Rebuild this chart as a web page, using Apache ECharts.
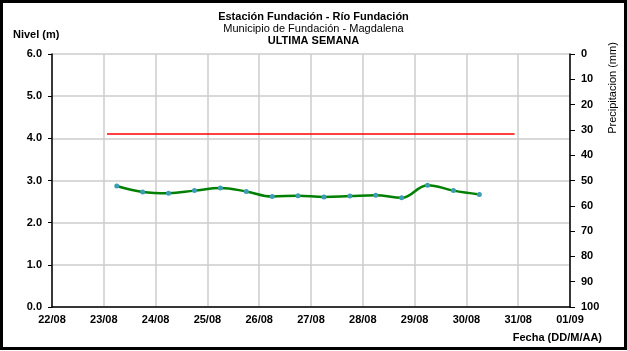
<!DOCTYPE html>
<html>
<head>
<meta charset="utf-8">
<script src="https://cdn.jsdelivr.net/npm/echarts@6/dist/echarts.min.js"></script>
<style>
html, body { margin: 0; padding: 0; background: #fff; }
#nivel { width: 627px; height: 351px; }
</style>
</head>
<body>
<div id="nivel"></div>
<script>
var DAY = 24 * 3600 * 1000;

// lecturas de nivel (m), cada 12 horas
var fechas = [
    '2013-08-23T06:00', '2013-08-23T18:00',
    '2013-08-24T06:00', '2013-08-24T18:00',
    '2013-08-25T06:00', '2013-08-25T18:00',
    '2013-08-26T06:00', '2013-08-26T18:00',
    '2013-08-27T06:00', '2013-08-27T18:00',
    '2013-08-28T06:00', '2013-08-28T18:00',
    '2013-08-29T06:00', '2013-08-29T18:00',
    '2013-08-30T06:00'
];
var niveles = [2.87, 2.73, 2.70, 2.76, 2.82, 2.74, 2.62, 2.64, 2.61, 2.63, 2.65, 2.59, 2.89, 2.76, 2.67];

// nivel de alerta (linea roja)
var alertaFechas = ['2013-08-23T01:30', '2013-08-30T22:20'];
var alertaNivel = [4.1, 4.1];

var ejeInicio = '2013-08-22T00:00';
var ejeFin = '2013-09-01T00:00';

function ms(s) { return Date.parse(s + ':00Z'); }
function pares(xs, ys) {
    var out = [];
    for (var i = 0; i < xs.length; i++) out.push([ms(xs[i]), ys[i]]);
    return out;
}
function dd(n) { return (n < 10 ? '0' : '') + n; }

var fuente = 'Liberation Sans';
var chart = echarts.init(document.getElementById('nivel'));

var option = {
    animation: false,
    backgroundColor: '#fff',
    textStyle: { fontFamily: fuente },
    title: {
        left: 'center',
        top: 6,
        text: '{a|Estación Fundación - Río Fundación}\n{b|Municipio de Fundación - Magdalena}\n{a|ULTIMA SEMANA}',
        textStyle: {
            fontWeight: 'normal',
            rich: {
                a: { fontFamily: fuente, fontSize: 11, fontWeight: 'bold', color: '#000', lineHeight: 12 },
                b: { fontFamily: fuente, fontSize: 11, fontWeight: 'normal', color: '#000', lineHeight: 12 }
            }
        }
    },
    grid: { left: 52, right: 57, top: 54, bottom: 44 },
    xAxis: {
        type: 'value',
        min: ms(ejeInicio),
        max: ms(ejeFin),
        interval: DAY,
        axisLine: { lineStyle: { color: '#000', width: 1.5 } },
        axisTick: { show: false },
        axisLabel: {
            color: '#000', fontWeight: 'bold', fontSize: 11, margin: 7,
            formatter: function (v) {
                var d = new Date(v);
                return dd(d.getUTCDate()) + '/' + dd(d.getUTCMonth() + 1);
            }
        },
        splitLine: { show: true, lineStyle: { color: '#cccccc', width: 1.5 } }
    },
    yAxis: [
        {
            type: 'value',
            min: 0, max: 6, interval: 1,
            axisLine: { show: true, lineStyle: { color: '#000', width: 1.5 } },
            axisTick: { show: true, length: 4, lineStyle: { color: '#000' } },
            axisLabel: {
                color: '#000', fontWeight: 'bold', fontSize: 11, margin: 10,
                formatter: function (v) { return v.toFixed(1); }
            },
            splitLine: { show: true, lineStyle: { color: '#cccccc', width: 1.5 } }
        },
        {
            type: 'value',
            position: 'right',
            inverse: true,
            min: 0, max: 100, interval: 10,
            axisLine: { show: true, lineStyle: { color: '#000', width: 1.5 } },
            axisTick: { show: true, length: 5, lineStyle: { color: '#000' } },
            axisLabel: { color: '#000', fontWeight: 'bold', fontSize: 11, margin: 11 },
            splitLine: { show: false }
        }
    ],
    graphic: [
        {
            type: 'text', left: 13, top: 29,
            style: { text: 'Nivel (m)', font: 'bold 11px ' + fuente, fill: '#000' }
        },
        {
            type: 'text', right: 25, top: 332,
            style: { text: 'Fecha (DD/M/AA)', font: 'bold 11px ' + fuente, fill: '#000' }
        },
        {
            type: 'text', x: 613, y: 88, rotation: Math.PI / 2,
            style: { text: 'Precipitacion (mm)', font: '11px ' + fuente, fill: '#000', align: 'center', verticalAlign: 'middle' }
        },
        {
            type: 'rect', z: 100,
            shape: { x: 1.5, y: 1.5, width: 624, height: 347 },
            style: { fill: 'none', stroke: '#000', lineWidth: 3 }
        }
    ],
    series: [
        {
            name: 'Alerta',
            type: 'line',
            data: pares(alertaFechas, alertaNivel),
            symbol: 'none',
            lineStyle: { color: '#ff0000', width: 1.5 }
        },
        {
            name: 'Nivel',
            type: 'line',
            smooth: 0.4,
            data: pares(fechas, niveles),
            symbol: 'circle',
            symbolSize: 5,
            itemStyle: { color: '#3d9db5' },
            lineStyle: { color: '#008000', width: 2.5 },
            z: 3
        }
    ]
};

chart.setOption(option);
</script>
</body>
</html>
